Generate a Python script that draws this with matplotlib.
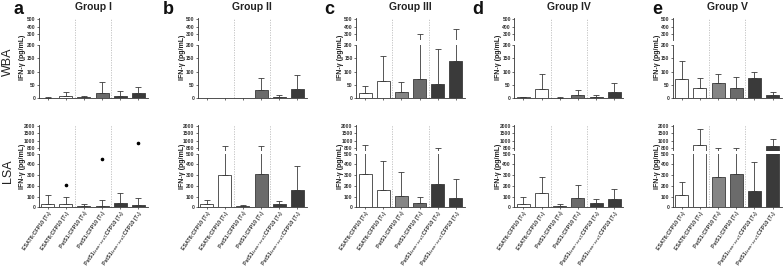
import numpy as np
import matplotlib
matplotlib.use('Agg')
import matplotlib.pyplot as plt

plt.rcParams['font.family'] = ['Liberation Sans', 'DejaVu Sans']

groups = ['Group I', 'Group II', 'Group III', 'Group IV', 'Group V']
panel_letters = ['a', 'b', 'c', 'd', 'e']
assays = ['WBA', 'LSA']
categories = ['ESAT6:CFP10 (T₀)', 'ESAT6:CFP10 (T₁)',
              'PstS1:CFP10 (T₀)', 'PstS1:CFP10 (T₁)',
              'PstS1₍₂₈₅₋₃₇₄₎:CFP10 (T₀)', 'PstS1₍₂₈₅₋₃₇₄₎:CFP10 (T₁)']
bar_colors = ['#ffffff', '#ffffff', '#858585', '#6b6b6b', '#3a3a3a', '#3a3a3a']

# WBA: mean and mean+SD (pg/mL), one list per group
wba_mean = [[1, 6.5, 4, 17, 8, 17],
            [0, 0, 0, 31, 5, 33],
            [17, 65, 21, 71, 54, 140],
            [2, 33, 1, 12, 5, 21],
            [71, 36, 55, 36, 76, 12]]
wba_upper = [[2, 21, 9, 60, 27, 43],
             [0, 0, 0, 74, 12, 85],
             [44, 160, 59, 305, 186, 375],
             [5, 91, 2, 31, 12, 58],
             [141, 76, 92, 79, 99, 23]]

# LSA: mean and mean+SD (pg/mL)
lsa_mean = [[29, 29, 10, 16, 38, 22],
            [29, 298, 10, 314, 29, 163],
            [314, 160, 109, 38, 221, 83],
            [35, 131, 13, 83, 42, 74],
            [115, 900, 282, 314, 150, 870]]
lsa_upper = [[115, 100, 32, 67, 131, 87],
             [67, 860, 22, 860, 58, 388],
             [900, 436, 330, 100, 800, 263],
             [96, 285, 35, 205, 77, 167],
             [234, 1800, 820, 800, 420, 1100]]

# outlier points (group index, bar index, value)
out_group = [0, 0, 0]
out_bar = [1, 3, 5]
out_value = [212, 452, 950]

W, H = 784, 274
fig = plt.figure(figsize=(W / 100, H / 100), dpi=100)


def add_ax(x0, x1, ytop, ybot):
    return fig.add_axes([x0 / W, 1 - ybot / H, (x1 - x0) / W, (ybot - ytop) / H])


up_ticks = [800, 1000, 1500, 2000]


def lsa_fwd(v):
    v = np.asarray(v, dtype=float)
    out = np.interp(v, up_ticks, [0, 1, 2, 3])
    out = np.where(v < 800, (v - 800) / 200.0, out)
    out = np.where(v > 2000, 3 + (v - 2000) / 500.0, out)
    return out


def lsa_inv(u):
    u = np.asarray(u, dtype=float)
    out = np.interp(u, [0, 1, 2, 3], up_ticks)
    out = np.where(u < 0, 800 + u * 200.0, out)
    out = np.where(u > 3, 2000 + (u - 3) * 500.0, out)
    return out


lefts = [38.5, 197.5, 356, 514.3, 672.7]
width = 109

rows = {
    'WBA': dict(up=(17.5, 40), up_lim=(225, 520), up_ticks=[300, 400, 500],
                lo=(45, 98), lo_lim=(0, 200), lo_ticks=[0, 50, 100, 150, 200]),
    'LSA': dict(up=(125, 150.5), up_lim=(740, 2070), up_ticks=up_ticks,
                lo=(153.7, 207.3), lo_lim=(0, 500), lo_ticks=[0, 100, 200, 300, 400, 500]),
}

edge = '#3a3a3a'
x = np.arange(6)


def draw(ax, mean, upper):
    mean = np.asarray(mean, float)
    upper = np.asarray(upper, float)
    ax.bar(x, mean, width=0.72, color=bar_colors, edgecolor=edge, linewidth=0.6, zorder=2)
    m = upper > mean
    ax.errorbar(x[m], mean[m], yerr=[np.zeros(m.sum()), (upper - mean)[m]], fmt='none',
                ecolor=edge, elinewidth=0.6, capsize=2.2, capthick=0.6, zorder=3)


def style(ax):
    for s in ['top', 'right']:
        ax.spines[s].set_visible(False)
    for s in ['left', 'bottom']:
        ax.spines[s].set_linewidth(0.6)
        ax.spines[s].set_color('#333333')
    ax.tick_params(labelsize=3.6, length=1.6, width=0.5, pad=0.8, colors='#333333')
    ax.set_xlim(-0.5, 5.5)
    for lab in ax.get_yticklabels():
        lab.set_fontweight('bold')


for gi in range(5):
    x0 = lefts[gi]
    x1 = x0 + width
    for assay in assays:
        r = rows[assay]
        means = wba_mean[gi] if assay == 'WBA' else lsa_mean[gi]
        uppers = wba_upper[gi] if assay == 'WBA' else lsa_upper[gi]

        axu = add_ax(x0, x1, r['up'][0], r['up'][1])
        axl = add_ax(x0, x1, r['lo'][0], r['lo'][1])
        if assay == 'LSA':
            axu.set_yscale('function', functions=(lsa_fwd, lsa_inv))
        for ax in (axu, axl):
            draw(ax, means, uppers)
            if assay == 'LSA':
                for g, b, v in zip(out_group, out_bar, out_value):
                    if g == gi:
                        ax.plot([b], [v], 'o', ms=1.6, color='black', zorder=4)
        axu.set_ylim(*r['up_lim'])
        axu.set_yticks(r['up_ticks'])
        axu.set_yticklabels([str(t) for t in r['up_ticks']])
        axu.yaxis.set_minor_locator(matplotlib.ticker.NullLocator())
        axl.set_ylim(*r['lo_lim'])
        axl.set_yticks(r['lo_ticks'])
        axl.set_yticklabels([str(t) for t in r['lo_ticks']])
        style(axu)
        style(axl)
        axu.spines['bottom'].set_visible(False)
        axu.set_xticks([])
        axl.set_xticks(x)
        if assay == 'LSA':
            axl.set_xticklabels(categories, rotation=55, ha='right', va='top',
                                rotation_mode='anchor', fontsize=3.8, fontweight='bold')
        else:
            axl.set_xticklabels([])

        frac = (r['lo'][1] - r['up'][0]) / (r['lo'][1] - r['lo'][0])
        for sx in (1.5, 3.5):
            axl.axvline(sx, ymin=0, ymax=frac, ls=(0, (1.5, 1.5)), color='#bdbdbd',
                        lw=0.6, clip_on=False, zorder=0)

        yc = (r['up'][0] + r['lo'][1]) / 2
        fig.text((x0 - 15.5) / W, 1 - yc / H, 'IFN-γ (pg/mL)', rotation=90, ha='center',
                 va='center', fontsize=5, fontweight='bold', color='#222222')

    fig.text((x0 + width / 2) / W, 1 - 7 / H, groups[gi], ha='center', va='center',
             fontsize=7.5, fontweight='bold', color='#222222')

letter_x = [18.5, 168, 329, 478, 657]
for gi, lx in enumerate(letter_x):
    fig.text(lx / W, 1 - 9.5 / H, panel_letters[gi], ha='center', va='center',
             fontsize=13, fontweight='bold', color='#111111')

fig.text(7.5 / W, 1 - 62 / H, 'WBA', rotation=90, ha='center', va='center',
         fontsize=9, color='#222222')
fig.text(7.5 / W, 1 - 171 / H, 'LSA', rotation=90, ha='center', va='center',
         fontsize=9, color='#222222')

fig.savefig('out.png', dpi=100)
